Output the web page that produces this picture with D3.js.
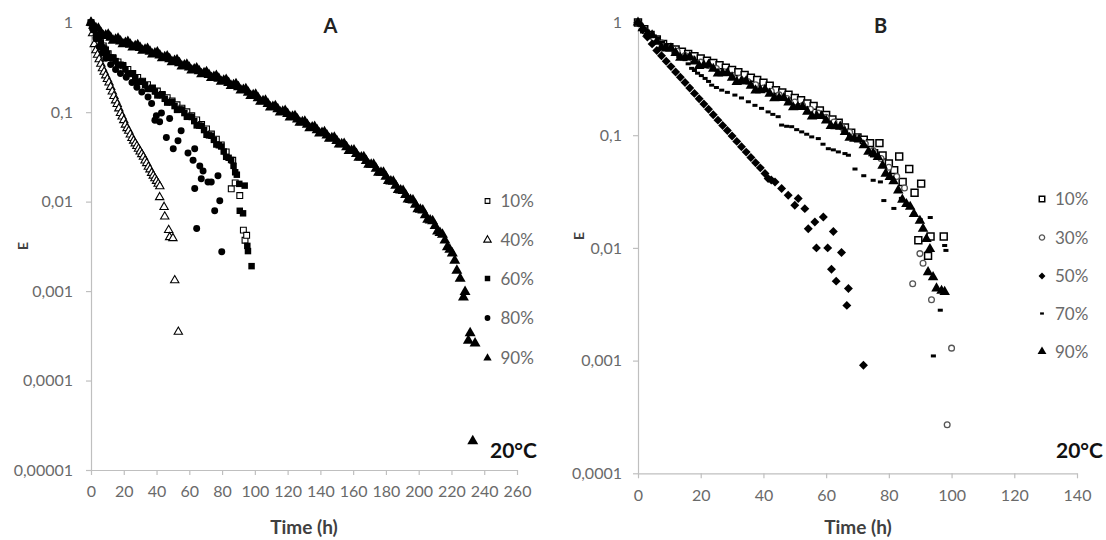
<!DOCTYPE html>
<html><head><meta charset="utf-8">
<script src="https://cdn.jsdelivr.net/npm/d3@7"></script>
<style>
body{margin:0;background:#fff}
svg{display:block}
text{font-family:Lato,"Open Sans",sans-serif}
</style>
</head><body>
<svg id="c" width="1106" height="540"></svg>
<script>
// ---------------- Panel A data: [time (h), E] ----------------
const a10 = [[0,1],[1.5,0.88],[4.5,0.69],[7.5,0.55],[10.5,0.45],[13.5,0.40],[16.5,0.365],[19.5,0.33],[22.5,0.30],[25.5,0.27],[28.5,0.245],[31.5,0.222],[34.5,0.203],[37.5,0.187],[40.5,0.172],[43.5,0.158],[46.5,0.145],[49.5,0.133],[52.5,0.121],[55.5,0.111],[58.5,0.101],[61.5,0.091],[64.5,0.082],[67.5,0.073],[70.5,0.065],[73.5,0.057],[76.5,0.050],[79.5,0.043],[82.5,0.036],[85.6,0.0139],[86.5,0.029],[88,0.0162],[90.8,0.0117],[93,0.0048],[94,0.0037],[95,0.0042]];
const a40 = [[0,1],[1,0.759],[2,0.575],[3,0.490],[4,0.437],[5,0.389],[6,0.347],[7,0.309],[8,0.282],[9,0.257],[10,0.234],[11,0.214],[12,0.191],[13,0.170],[14,0.151],[15,0.135],[16,0.123],[17,0.110],[18,0.0977],[19,0.0891],[20,0.0813],[21,0.0724],[22,0.0661],[23,0.0617],[24,0.0562],[25,0.0513],[26,0.0479],[27,0.0447],[28,0.0417],[29,0.0389],[30,0.0363],[31,0.0339],[32,0.0316],[33,0.0288],[34,0.0269],[35,0.0245],[36,0.0229],[37,0.0209],[38,0.0195],[39,0.0182],[40,0.0170],[41,0.0158],[42,0.0148],[41.9,0.0112],[44.6,0.0087],[45,0.0068],[47.4,0.0048],[48,0.0040],[50,0.0039],[51.1,0.00132],[53.3,0.00035]];
const a60 = [[0,1],[1,0.91],[2,0.832],[3,0.73],[4,0.708],[5,0.686],[6,0.603],[7,0.53],[8,0.513],[9,0.50],[10,0.447],[11,0.405],[12,0.407],[13.5,0.409],[15,0.372],[16.5,0.337],[18,0.339],[19.5,0.335],[21,0.302],[22.5,0.271],[24,0.269],[25.5,0.267],[27,0.240],[28.5,0.218],[30,0.219],[31.5,0.219],[33,0.200],[34.5,0.182],[36,0.182],[37.5,0.185],[39,0.170],[40.5,0.154],[42,0.155],[43.5,0.155],[45,0.141],[46.5,0.128],[48,0.129],[49.5,0.129],[51,0.117],[52.5,0.106],[54,0.107],[55.5,0.107],[57,0.0977],[58.5,0.0887],[60,0.0891],[61.5,0.0883],[63,0.0794],[64.5,0.0711],[66,0.0708],[67.5,0.0704],[69,0.0631],[70.5,0.0559],[72,0.0550],[73.5,0.0545],[75,0.0490],[76.5,0.0435],[78,0.0427],[79.5,0.0413],[81,0.0363],[82.5,0.0317],[84,0.0309],[85.5,0.0292],[87,0.0251],[88,0.0213],[89,0.0200],[90.5,0.0158],[93.8,0.0151],[90.8,0.0079],[92.8,0.0074],[95.4,0.0032],[95.8,0.0028],[98,0.0019]];
const a80 = [[0,1],[1,0.85],[3,0.66],[5,0.54],[7,0.46],[9,0.40],[12,0.34],[15,0.30],[18,0.27],[21.5,0.245],[25,0.215],[28,0.19],[31,0.168],[34.8,0.148],[37,0.125],[39,0.081],[39.9,0.091],[41.9,0.078],[43,0.098],[46,0.052],[48,0.085],[50.2,0.039],[53.1,0.048],[55,0.062],[59.2,0.035],[62.3,0.029],[63.3,0.039],[63.3,0.014],[64.5,0.0050],[66.4,0.025],[67.3,0.018],[68.4,0.022],[71.4,0.0166],[73.4,0.0166],[75.5,0.0079],[77.5,0.0195],[78.6,0.0102],[79.8,0.00275]];
const a90 = [[0,1],[1.5,0.93],[3,0.871],[4.5,0.86],[6,0.776],[7.5,0.712],[9,0.724],[10.5,0.738],[12,0.682],[13.5,0.631],[15,0.646],[16.5,0.664],[18,0.619],[19.5,0.576],[21,0.594],[22.5,0.611],[24,0.570],[25.5,0.530],[27,0.547],[28.5,0.563],[30,0.525],[31.5,0.487],[33,0.500],[34.5,0.512],[36,0.476],[37.5,0.442],[39,0.454],[40.5,0.465],[42,0.432],[43.5,0.401],[45,0.412],[46.5,0.422],[48,0.393],[49.5,0.364],[51,0.374],[52.5,0.381],[54,0.353],[55.5,0.326],[57,0.334],[58.5,0.341],[60,0.316],[61.5,0.293],[63,0.301],[64.5,0.309],[66,0.287],[67.5,0.266],[69,0.274],[70.5,0.281],[72,0.261],[73.5,0.242],[75,0.248],[76.5,0.254],[78,0.237],[79.5,0.219],[81,0.225],[82.5,0.230],[84,0.213],[85.5,0.197],[87,0.201],[88.5,0.206],[90,0.191],[91.5,0.175],[93,0.178],[94.5,0.181],[96,0.166],[97.5,0.152],[99,0.155],[100.5,0.157],[102,0.144],[103.5,0.131],[105,0.133],[106.5,0.135],[108,0.124],[109.5,0.113],[111,0.115],[112.5,0.117],[114,0.108],[115.5,0.0995],[117,0.1016],[118.5,0.1034],[120,0.0955],[121.5,0.0876],[123,0.0891],[124.5,0.0904],[126,0.0832],[127.5,0.0763],[129,0.0776],[130.5,0.0787],[132,0.0724],[133.5,0.0665],[135,0.0676],[136.5,0.0686],[138,0.0631],[139.5,0.0579],[141,0.0589],[142.5,0.0598],[144,0.0550],[145.5,0.0505],[147,0.0513],[148.5,0.0520],[150,0.0479],[151.5,0.0437],[153,0.0441],[154.5,0.0444],[156,0.0406],[157.5,0.0370],[159,0.0373],[160.5,0.0375],[162,0.0342],[163.5,0.0311],[165,0.0313],[166.5,0.0314],[168,0.0286],[169.5,0.0259],[171,0.0260],[172.5,0.0259],[174,0.0234],[175.5,0.0211],[177,0.0211],[178.5,0.0211],[180,0.0191],[181.5,0.0171],[183,0.0169],[184.5,0.0168],[186,0.0151],[187.5,0.0135],[189,0.0134],[190.5,0.0132],[192,0.0119],[193.5,0.0106],[195,0.0105],[196.5,0.01035],[198,0.00925],[199.5,0.00824],[201,0.00813],[202.5,0.00797],[204,0.00708],[205.5,0.00628],[207,0.00617],[208.5,0.00605],[210,0.00537],[211.5,0.00466],[213,0.00449],[214.5,0.00427],[216,0.00368],[217.5,0.00311],[219,0.00291],[220.5,0.00265],[222,0.00219],[223.3,0.0017],[225.3,0.00138],[228.3,0.00098],[227.3,0.00085],[231.4,0.00034],[230.3,0.00028],[234.4,0.00026],[233,0.000021]];

// ---------------- Panel B data: [time (h), E] ----------------
const b10 = [[0,1],[2,0.871],[4,0.776],[6,0.708],[8,0.646],[10,0.603],[12,0.575],[14,0.550],[16,0.525],[18,0.501],[20,0.479],[22,0.457],[24,0.437],[26,0.417],[28,0.398],[30,0.380],[32,0.363],[34,0.343],[36,0.324],[38,0.309],[40,0.292],[42,0.275],[44,0.251],[46,0.240],[48,0.229],[50,0.214],[52,0.204],[54,0.191],[56,0.182],[58,0.166],[60,0.151],[62,0.138],[64,0.129],[66,0.117],[68,0.105],[70,0.0955],[72,0.0912],[74,0.0851],[75.3,0.0692],[77,0.0851],[78,0.0661],[80,0.0562],[81.7,0.0490],[83.3,0.0646],[84.4,0.0385],[86.5,0.0501],[88.2,0.0309],[89.4,0.0117],[90.3,0.0372],[92.5,0.0085],[93.3,0.0126],[97.5,0.0126]];
const b30 = [[0,1],[2.5,0.84],[5,0.73],[7.5,0.66],[10,0.60],[12.5,0.555],[15,0.51],[17.5,0.475],[20,0.445],[22.5,0.415],[25,0.39],[27.5,0.365],[30,0.34],[32.5,0.32],[35,0.30],[37.5,0.28],[40,0.262],[42.5,0.245],[45,0.228],[47.5,0.212],[50,0.197],[52.5,0.183],[55,0.17],[57.5,0.157],[60,0.144],[62.5,0.131],[65,0.118],[67.5,0.106],[70,0.095],[72.5,0.084],[75,0.073],[77.5,0.062],[80,0.052],[82.5,0.043],[85,0.034],[87.6,0.0048],[89.9,0.0089],[90.9,0.0073],[93.6,0.00347],[98.6,0.00027],[100,0.00129]];
const b50 = [[0,1],[1.5,0.863],[3,0.745],[4.5,0.646],[6,0.564],[7.5,0.506],[9,0.453],[10.5,0.406],[12,0.364],[13.5,0.327],[15,0.293],[16.5,0.262],[18,0.235],[19.5,0.211],[21,0.189],[22.5,0.170],[24,0.152],[25.5,0.136],[27,0.122],[28.5,0.110],[30,0.0984],[31.5,0.0881],[33,0.0791],[34.5,0.0708],[36,0.0635],[37.5,0.0569],[39,0.0513],[40.5,0.0457],[41.5,0.0412],[42.5,0.0400],[43.7,0.0385],[45.8,0.0336],[47.9,0.0293],[50,0.0239],[51.1,0.0274],[53.2,0.0223],[54.3,0.0148],[56.4,0.0170],[59.1,0.0188],[62.3,0.0140],[56.9,0.0100],[60.5,0.0100],[64.9,0.0091],[61.7,0.00646],[63.2,0.00507],[67.1,0.00437],[66.6,0.00309],[71.9,0.00091]];
const b70 = [[0,1],[1,0.94],[2,0.89],[3,0.84],[4,0.79],[5.2,0.76],[6.5,0.724],[7.8,0.67],[9,0.631],[10.7,0.589],[12,0.54],[13,0.50],[14,0.49],[15,0.468],[16,0.43],[17.1,0.392],[18,0.375],[19,0.355],[20.2,0.338],[21.4,0.319],[22.5,0.30],[23.5,0.278],[25,0.265],[26.7,0.251],[28.5,0.240],[30.9,0.227],[33,0.214],[35.2,0.198],[37.3,0.184],[39.4,0.173],[41.5,0.161],[43,0.153],[44.7,0.146],[45.8,0.123],[47.4,0.120],[49,0.119],[50.6,0.112],[52.2,0.107],[53.8,0.102],[55.4,0.0966],[57.5,0.0933],[59,0.0832],[60.7,0.0759],[62.3,0.0741],[63.9,0.0711],[66,0.0687],[67.1,0.0664],[69.2,0.0501],[72,0.0437],[75,0.0398],[77.3,0.0385],[78.4,0.0263],[81.6,0.0224],[84,0.0275],[86,0.0240],[88,0.0200],[90,0.0178],[93.2,0.0186],[97.8,0.0105],[98.2,0.0095],[96.4,0.0028],[94.2,0.0011]];
const b90 = [[0,1],[1.5,0.89],[3,0.794],[4.5,0.77],[6,0.676],[7.5,0.60],[9,0.589],[10.5,0.59],[12,0.537],[13.5,0.487],[15,0.490],[16.5,0.494],[18,0.452],[19.5,0.412],[21,0.417],[22.5,0.423],[24,0.389],[25.5,0.353],[27,0.355],[28.5,0.356],[30,0.324],[31.5,0.297],[33,0.302],[34.5,0.302],[36,0.275],[37.5,0.250],[39,0.251],[40.5,0.254],[42,0.234],[43.5,0.213],[45,0.214],[46.5,0.214],[48,0.195],[49.5,0.177],[51,0.178],[52.5,0.178],[54,0.162],[55.5,0.147],[57,0.148],[58.5,0.148],[60,0.135],[61.5,0.121],[63,0.120],[64.5,0.119],[66,0.107],[67.5,0.0949],[69,0.0933],[70.5,0.0915],[72,0.0813],[73.5,0.0713],[75,0.0692],[76.5,0.064],[78,0.0537],[79,0.0456],[80.3,0.0427],[81.5,0.039],[83,0.0324],[84.3,0.0268],[85.6,0.0245],[86.8,0.0232],[88,0.0200],[89.9,0.0174],[90.9,0.0148],[92,0.0120],[93.1,0.00977],[92.5,0.0061],[94.1,0.0055],[95.2,0.00437],[96.8,0.00417],[97.8,0.00407]];

// ---------------- axes / labels ----------------
const xTicksA = [0,20,40,60,80,100,120,140,160,180,200,220,240,260];
const yTicksA = [1,0.1,0.01,0.001,0.0001,0.00001];
const yLabelsA = ["1","0,1","0,01","0,001","0,0001","0,00001"];
const xTicksB = [0,20,40,60,80,100,120,140];
const yTicksB = [1,0.1,0.01,0.001,0.0001];
const yLabelsB = ["1","0,1","0,01","0,001","0,0001"];
const legendA = ["10%","40%","60%","80%","90%"];
const legendB = ["10%","30%","50%","70%","90%"];

const svg = d3.select('#c');

function markerPath(m, size) {
  if (m === 'square' || m === 'diamond') return d3.symbol().type(d3.symbolSquare).size(size)();
  if (m === 'triangle') return d3.symbol().type(d3.symbolTriangle).size(size)();
  if (m === 'circle') return d3.symbol().type(d3.symbolCircle).size(size)();
  if (m === 'dash') { const w = Math.sqrt(size)*1.35, h = Math.sqrt(size)*0.8; return `M${-w/2},${-h/2}h${w}v${h}h${-w}z`; }
}

function panel(p) {
  const g = svg.append('g');
  const x = d3.scaleLinear().domain(p.xDomain).range(p.xRange);
  const y = d3.scaleLog().domain(p.yDomain).range(p.yRange);

  const ya = d3.axisLeft(y).tickValues(p.yTicks).tickFormat((d,i)=>p.yLabels[i])
    .tickSize(5).tickSizeOuter(0).tickPadding(p.yPad);
  const gy = g.append('g').attr('transform',`translate(${p.xRange[0]},0)`).call(ya);
  const xa = d3.axisBottom(x).tickValues(p.xTicks).tickSize(5).tickSizeOuter(0).tickPadding(11);
  const gx = g.append('g').attr('transform',`translate(0,${p.yRange[0]})`).call(xa);
  [gx, gy].forEach(a => {
    a.select('.domain').attr('stroke','#bfbfbf').attr('stroke-width',1.2);
    a.selectAll('.tick line').attr('stroke','#bfbfbf').attr('stroke-width',1.2);
    a.selectAll('.tick text').attr('fill','#6a6a6a').style('font-size','16px').style('font-family','Lato,sans-serif');
  });

  p.series.forEach(s => {
    g.append('g').selectAll('path').data(s.data).join('path')
      .attr('d', markerPath(s.marker, s.size))
      .attr('transform', d => `translate(${x(d[0])},${y(d[1])})${s.marker==='diamond'?' rotate(45)':''}`)
      .attr('fill', s.fill).attr('stroke', s.stroke).attr('stroke-width', s.sw);
  });

  p.series.forEach((s, i) => {
    const ly = p.legY[i];
    g.append('path').attr('d', markerPath(s.marker, s.lsize))
      .attr('transform', `translate(${p.legX},${ly})${s.marker==='diamond'?' rotate(45)':''}`)
      .attr('fill', s.fill).attr('stroke', s.stroke).attr('stroke-width', s.sw);
    g.append('text').attr('x', p.legX + 13).attr('y', ly + 6)
      .attr('fill','#6a6a6a').style('font-size','17px').text(p.legend[i]);
  });

  g.append('text').attr('x', p.titleX).attr('y', 33).attr('text-anchor','middle')
    .attr('fill','#222').style('font-size','20px').style('font-weight','bold').text(p.title);
  g.append('text').attr('x', p.tempX).attr('y', 458)
    .attr('fill','#111').style('font-size','21px').style('font-weight','bold').text('20°C');
  g.append('text').attr('x', p.timeX).attr('y', 534).attr('text-anchor','middle')
    .attr('fill','#404040').style('font-size','19px').style('font-weight','bold').text('Time (h)');
  g.append('text').attr('transform', `translate(${p.eX},${p.eY}) rotate(-90)`).attr('text-anchor','middle')
    .attr('fill','#404040').style('font-size','14px').style('font-weight','bold').text('E');
}

panel({
  xDomain:[0,260], xRange:[91,517], yDomain:[0.00001,1], yRange:[470,22.7],
  xTicks:xTicksA, yTicks:yTicksA, yLabels:yLabelsA, yPad:13,
  legend:legendA, legX:487.5, legY:[201,240,278.5,318,358],
  title:'A', titleX:330.5, tempX:490, timeX:304, eX:28, eY:246,
  series:[
    {data:a10, marker:'square', size:34, lsize:22, fill:'#fff', stroke:'#000', sw:1.1},
    {data:a40, marker:'triangle', size:30, lsize:24, fill:'#fff', stroke:'#000', sw:1.1},
    {data:a60, marker:'square', size:42, lsize:30, fill:'#000', stroke:'none', sw:0},
    {data:a80, marker:'circle', size:38, lsize:26, fill:'#000', stroke:'none', sw:0},
    {data:a90, marker:'triangle', size:52, lsize:30, fill:'#000', stroke:'none', sw:0}
  ]
});

panel({
  xDomain:[0,140], xRange:[638,1077], yDomain:[0.0001,1], yRange:[473.3,22.5],
  xTicks:xTicksB, yTicks:yTicksB, yLabels:yLabelsB, yPad:11,
  legend:legendB, legX:1042, legY:[199,237.5,276,313.5,351.5],
  title:'B', titleX:880.5, tempX:1056, timeX:858, eX:583.5, eY:236,
  series:[
    {data:b10, marker:'square', size:48, lsize:30, fill:'#fff', stroke:'#000', sw:1.5},
    {data:b30, marker:'circle', size:26, lsize:22, fill:'#fff', stroke:'#555', sw:1.3},
    {data:b50, marker:'diamond', size:40, lsize:24, fill:'#000', stroke:'none', sw:0},
    {data:b70, marker:'dash', size:14, lsize:8, fill:'#000', stroke:'none', sw:0},
    {data:b90, marker:'triangle', size:48, lsize:34, fill:'#000', stroke:'none', sw:0}
  ]
});
</script>
</body></html>
